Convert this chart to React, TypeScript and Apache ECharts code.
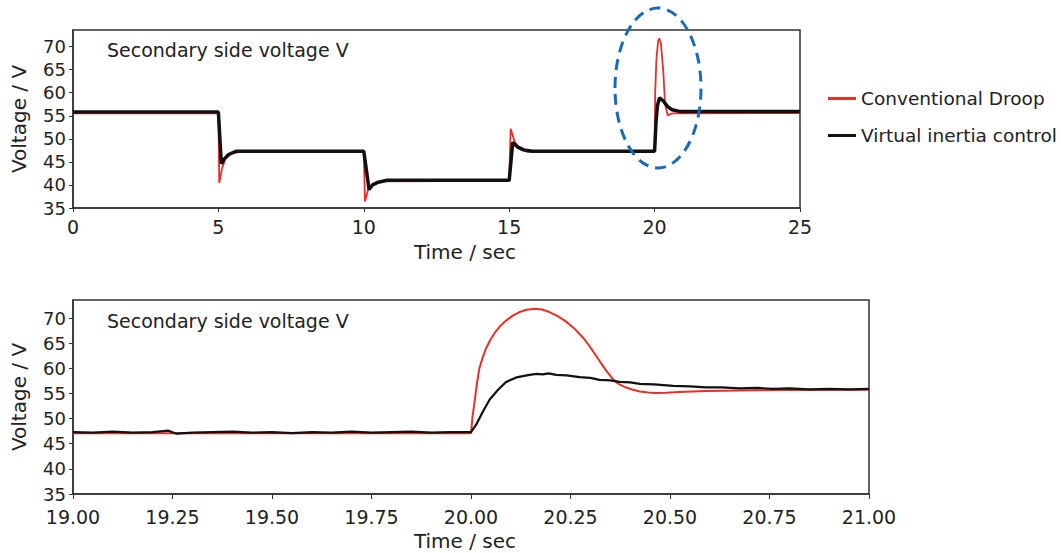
import React, { useEffect, useRef } from "react";
import * as echarts from "echarts";

// ---------- Data ----------
const seriesNames = ["Conventional Droop", "Virtual inertia control"];
const yTicks = [35, 40, 45, 50, 55, 60, 65, 70];

// Top chart: 0 - 25 s
const topRedT = [0, 5, 5.03, 5.12, 5.25, 5.45, 5.7, 10, 10.04, 10.14, 10.3, 10.55, 15, 15.05, 15.18, 15.35, 15.6, 20, 20.02, 20.06, 20.12, 20.16, 20.22, 20.3, 20.36, 20.45, 20.6, 25];
const topRedV = [55.5, 55.5, 40.4, 43.5, 45.8, 46.8, 47.1, 47.1, 36.4, 38.8, 40.2, 40.8, 40.9, 52.2, 49.5, 47.8, 47.2, 47.2, 60, 67, 71.2, 71.8, 70.5, 64.5, 57.5, 55.1, 55.5, 55.6];

const topBlackT = [0, 5, 5.1, 5.2, 5.35, 5.6, 10, 10.18, 10.3, 10.5, 10.8, 15, 15.12, 15.3, 15.5, 15.8, 20, 20.05, 20.1, 20.17, 20.3, 20.45, 20.6, 20.9, 25];
const topBlackV = [55.8, 55.8, 44.6, 45.6, 46.6, 47.3, 47.3, 39.0, 40.0, 40.6, 41.0, 41.0, 49.2, 48.2, 47.6, 47.3, 47.3, 53.8, 57.3, 58.9, 58.2, 57.0, 56.3, 55.9, 55.9];

// Bottom chart: 19 - 21 s
const botRedT = [19, 20, 20.004, 20.009, 20.015, 20.021, 20.03, 20.038, 20.048, 20.059, 20.073, 20.088, 20.105, 20.122, 20.14, 20.16, 20.178, 20.197, 20.218, 20.239, 20.26, 20.281, 20.298, 20.315, 20.328, 20.34, 20.351, 20.361, 20.373, 20.386, 20.405, 20.424, 20.445, 20.465, 20.49, 20.524, 20.591, 20.675, 20.801, 21];
const botRedV = [47.1, 47.1, 50.5, 53.4, 57.0, 60.0, 62.3, 64.0, 65.6, 67.0, 68.4, 69.5, 70.5, 71.2, 71.65, 71.85, 71.7, 71.2, 70.4, 69.3, 67.9, 66.15, 64.4, 62.4, 60.9, 59.5, 58.4, 57.5, 56.8, 56.3, 55.8, 55.4, 55.2, 55.1, 55.15, 55.3, 55.5, 55.6, 55.7, 55.75];

const botBlackT = [19.0, 19.05, 19.1, 19.15, 19.2, 19.24, 19.26, 19.3, 19.35, 19.4, 19.45, 19.5, 19.55, 19.6, 19.65, 19.7, 19.75, 19.8, 19.85, 19.9, 19.95, 20.0,
  20.013, 20.03, 20.047, 20.068, 20.088, 20.114, 20.147, 20.165, 20.18, 20.195, 20.214, 20.24, 20.273, 20.3, 20.323, 20.35, 20.373, 20.4, 20.424, 20.46, 20.508, 20.55, 20.591, 20.63, 20.675, 20.72, 20.759, 20.8, 20.85, 20.9, 20.95, 21.0];
const botBlackV = [47.3, 47.2, 47.4, 47.2, 47.3, 47.6, 47.0, 47.2, 47.3, 47.4, 47.2, 47.3, 47.1, 47.3, 47.2, 47.4, 47.2, 47.3, 47.4, 47.2, 47.3, 47.3,
  48.8, 51.4, 53.8, 55.75, 57.3, 58.2, 58.7, 58.9, 58.8, 59.0, 58.7, 58.6, 58.25, 58.1, 57.7, 57.6, 57.3, 57.2, 56.9, 56.8, 56.5, 56.4, 56.2, 56.2, 56.0, 56.1, 55.9, 56.0, 55.8, 55.9, 55.8, 55.9];

const titleText = "Secondary side voltage V";
const yName = "Voltage / V";
const xName = "Time / sec";

const RED = "#e8302a";
const BLACK = "#111111";
const FONT = "DejaVu Sans";

const zip = (t: number[], v: number[]) => t.map((x, i) => [x, v[i]]);

export default function App() {
  const ref = useRef<HTMLDivElement>(null);
  useEffect(() => {
    if (!ref.current) return;
    const chart = echarts.init(ref.current, undefined, { renderer: "svg" });
    const yAxisCommon = (gridIndex: number) => ({
      type: "value",
      gridIndex,
      min: 35,
      max: 73.6,
      interval: 5,
      name: yName,
      nameLocation: "middle",
      nameGap: 44,
      nameTextStyle: { fontFamily: FONT, fontSize: 20, color: "#222" },
      axisLine: { show: true, lineStyle: { color: "#333", width: 1.5 } },
      axisTick: { show: true, length: 4, customValues: yTicks, lineStyle: { color: "#333" } },
      axisLabel: {
        margin: 7,
        fontFamily: FONT,
        fontSize: 18,
        color: "#222",
        customValues: yTicks,
        formatter: (v: number) => (Math.abs(v % 5) < 1e-6 ? String(v) : ""),
      },
      splitLine: { show: false },
    });
    chart.setOption({
      animation: false,
      backgroundColor: "#ffffff",
      legend: {
        data: seriesNames,
        orient: "vertical",
        left: 823,
        top: 84,
        itemGap: 18,
        icon: "rect",
        itemWidth: 28,
        itemHeight: 3,
        textStyle: { fontFamily: FONT, fontSize: 18.5, color: "#222" },
      },
      grid: [
        { left: 73, top: 30, width: 727, height: 178, show: true, borderColor: "#333", borderWidth: 1.5, backgroundColor: "transparent" },
        { left: 73, top: 300, width: 796, height: 194, show: true, borderColor: "#333", borderWidth: 1.5, backgroundColor: "transparent" },
      ],
      xAxis: [
        {
          type: "value",
          gridIndex: 0,
          min: 0,
          max: 25,
          interval: 5,
          axisLine: { show: true, lineStyle: { color: "#333", width: 1.5 } },
          axisTick: { show: true, length: 4, lineStyle: { color: "#333" } },
          axisLabel: { margin: 9, fontFamily: FONT, fontSize: 19, color: "#222" },
          splitLine: { show: false },
        },
        {
          type: "value",
          gridIndex: 1,
          min: 19,
          max: 21,
          interval: 0.25,
          axisLine: { show: true, lineStyle: { color: "#333", width: 1.5 } },
          axisTick: { show: true, length: 5, lineStyle: { color: "#333" } },
          axisLabel: {
            margin: 13,
            fontFamily: FONT,
            fontSize: 19,
            color: "#222",
            formatter: (v: number) => v.toFixed(2),
          },
          splitLine: { show: false },
        },
      ],
      yAxis: [yAxisCommon(0), yAxisCommon(1)],
      series: [
        {
          name: seriesNames[0],
          type: "line",
          xAxisIndex: 0,
          yAxisIndex: 0,
          data: zip(topRedT, topRedV),
          showSymbol: false,
          lineStyle: { color: RED, width: 1.8 },
          itemStyle: { color: RED },
        },
        {
          name: seriesNames[1],
          type: "line",
          xAxisIndex: 0,
          yAxisIndex: 0,
          data: zip(topBlackT, topBlackV),
          showSymbol: false,
          lineStyle: { color: BLACK, width: 3.5 },
          itemStyle: { color: BLACK },
        },
        {
          name: seriesNames[0],
          type: "line",
          xAxisIndex: 1,
          yAxisIndex: 1,
          data: zip(botRedT, botRedV),
          showSymbol: false,
          lineStyle: { color: RED, width: 2 },
          itemStyle: { color: RED },
        },
        {
          name: seriesNames[1],
          type: "line",
          xAxisIndex: 1,
          yAxisIndex: 1,
          data: zip(botBlackT, botBlackV),
          showSymbol: false,
          lineStyle: { color: BLACK, width: 2.2 },
          itemStyle: { color: BLACK },
        },
      ],
      graphic: [
        {
          type: "text",
          left: 107,
          top: 40,
          style: { text: titleText, fontFamily: FONT, fontSize: 19, fill: "#222" },
        },
        {
          type: "text",
          left: 107,
          top: 311,
          style: { text: titleText, fontFamily: FONT, fontSize: 19, fill: "#222" },
        },
        {
          type: "text",
          x: 465,
          y: 252,
          style: { text: xName, fontFamily: FONT, fontSize: 20, fill: "#222", align: "center", verticalAlign: "middle" },
        },
        {
          type: "text",
          x: 465,
          y: 541,
          style: { text: xName, fontFamily: FONT, fontSize: 20, fill: "#222", align: "center", verticalAlign: "middle" },
        },
        {
          type: "ellipse",
          shape: { cx: 658, cy: 88, rx: 43, ry: 80 },
          style: { fill: "none", stroke: "#1a6bb5", lineWidth: 3, lineDash: [11, 7] },
          z: 100,
        },
      ],
    });
    return () => chart.dispose();
  }, []);
  return <div ref={ref} style={{ position: "absolute", left: 0, top: 0, width: 1061, height: 553 }} />;
}
